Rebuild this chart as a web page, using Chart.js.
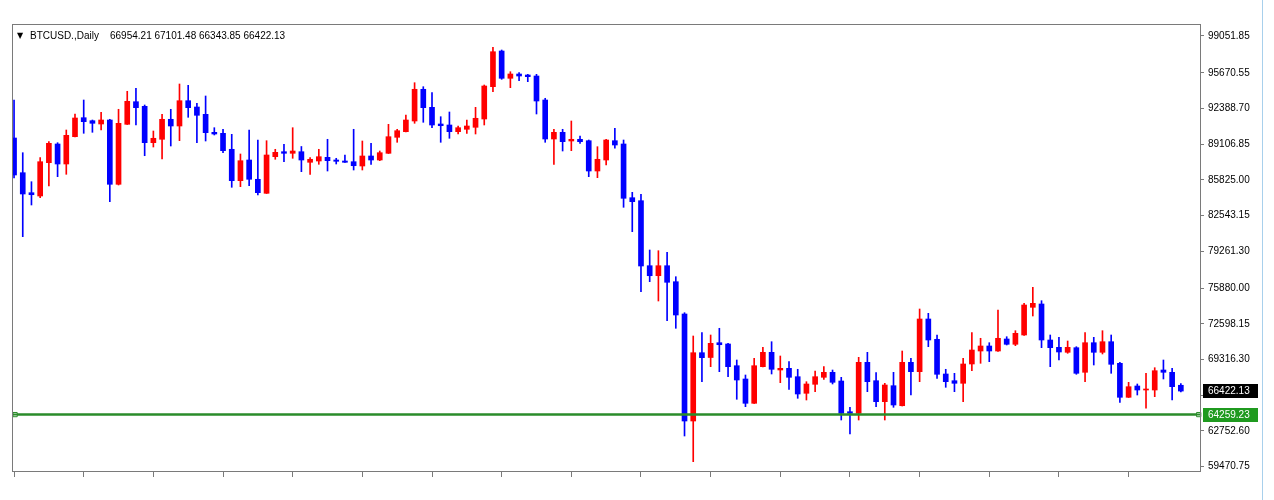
<!DOCTYPE html>
<html><head><meta charset="utf-8">
<script src="https://cdn.jsdelivr.net/npm/chart.js@4.4.1/dist/chart.umd.min.js"></script>
<style>html,body{margin:0;padding:0;background:#fff;overflow:hidden}#wrap{position:relative;width:1274px;height:500px}canvas{display:block}</style>
</head><body><div id="wrap"><canvas id="c" width="1274" height="500"></canvas></div>
<script>
const symbolName = 'BTCUSD.,Daily';
const openP = [89678,86489,84651,84348,87408,89127,87289,89798,91544,91268,
90965,91332,85423,90937,93014,92591,89246,89559,91397,90781,
93106,92527,91856,90202,90110,88640,85754,87656,85883,84596,
87960,88419,88272,88419,87445,87564,87904,87656,87564,87500,
87105,88024,87656,88272,89742,90257,91240,94154,92499,90965,
90873,90257,90478,90661,91424,94393,97673,95165,95560,95468,
95376,93170,89586,90202,89402,89559,89430,86645,87656,89430,
89127,84192,83916,77942,77023,77942,76472,73504,63670,69947,
69506,70866,70747,68752,67530,65297,68661,69984,68357,68513,
67742,66216,67043,67686,68146,67346,64525,64378,69065,67374,
65444,66914,65076,69065,68201,73044,71179,67990,67374,67135,
68909,70103,70563,70103,71206,70719,71574,74119,74423,71114,
70443,69984,70407,68146,70866,69984,70958,68973,65848,66887,
66519,66519,68357,68146,66954.21];
const highP = [93170,88327,85662,87868,89338,89246,90413,91884,93170,91332,
92040,91397,92316,93970,94246,92711,90321,91856,92316,94641,
94521,92867,93538,90625,90478,90018,88208,90413,89494,89430,
88640,89099,90625,88897,87868,88640,89559,87813,88116,90478,
89402,89191,88483,90937,90478,91792,94760,94393,93841,91636,
92068,90781,91332,92499,94549,98013,97765,95771,95679,95532,
95532,93327,90478,90478,91240,89862,89494,88879,89559,90570,
89494,84688,84504,79385,79321,79174,76932,73623,71482,71785,
71574,72190,70811,69276,67898,69432,70443,70958,69644,69120,
68422,67282,68265,68661,68357,67686,64929,69524,69984,68109,
67135,68146,70103,69432,73963,73568,71574,68422,68054,69432,
71785,71271,70866,73871,71418,71969,74487,75957,74726,71574,
71362,71022,70499,71785,71362,71969,71574,69065,67227,67071,
68054,68569,69276,68513,67101.48];
const lowP = [86002,80608,83521,84192,85267,86122,86342,89770,90110,90202,
90413,83824,85359,90919,90873,88051,88851,87748,88943,89430,
91580,89246,89402,89954,88327,85147,85203,85295,84440,84578,
87721,87500,87813,86581,86342,87261,86645,87289,87427,86737,
86737,87261,87592,88254,89283,90229,91029,91121,90625,89283,
89651,90046,90110,90046,90873,93933,95073,94301,94944,94852,
91884,89283,87261,88483,88511,89191,86122,86030,87197,88732,
83309,81067,75553,76472,74698,72888,72190,62292,59930,67282,
68661,68201,67742,65665,64985,65279,68633,67990,67190,66584,
65756,65600,66363,67503,67071,63762,62476,63762,66363,64985,
63762,64929,65049,66060,67282,70499,67594,66767,66363,65444,
68293,68973,69120,70076,70655,70591,71546,73320,70407,68661,
69276,69892,67962,67282,68817,69828,68054,65389,65830,66060,
64838,65904,67530,65600,66343.85];
const closeP = [86278,84532,84467,87500,89191,87289,89926,91516,91176,91029,
91332,85423,91029,93051,92463,89246,89651,91397,90781,93106,
92463,91764,90165,90046,88511,85754,87592,85883,84651,88116,
88364,88272,88483,87656,87721,87960,87592,87537,87445,87132,
88024,87656,88327,89798,90349,91332,94154,92463,90873,90808,
90257,90625,90781,91489,94457,97609,95165,95560,95376,95312,
93078,89586,90202,89338,89559,89338,86645,87721,89494,89035,
84137,83824,77915,77023,77942,76417,73412,63670,69947,69488,
70811,70682,68661,67438,65297,68752,69984,68422,68513,67686,
66152,67071,67742,68146,67227,64378,64378,69065,67282,65444,
66979,65141,69065,68201,73044,71114,67962,67282,67135,68909,
70195,70563,70103,71271,70719,71730,74331,74487,71114,70407,
70012,70443,68054,70866,69984,70958,68881,65848,66823,66519,
66611,68293,68146,66823,66422.13];
const yTickValues = [99051.85,95670.55,92388.70,89106.85,85825.00,82543.15,79261.30,75880.00,72598.15,69316.30,66034.45,62752.60,59470.75];
const lastPrice = 66422.13;
const levelPrice = 64259.23;
const barIndex = openP.map((_, i) => i);

const upColor = '#ff0000', downColor = '#0000ff';
const colorOf = i => closeP[i] >= openP[i] ? upColor : downColor;

const decor = {
  id: 'mt4decor',
  beforeDraw(chart) {
    const ctx = chart.ctx;
    ctx.save(); ctx.fillStyle = '#fff'; ctx.fillRect(0, 0, chart.width, chart.height); ctx.restore();
  },
  afterDraw(chart) {
    const {ctx, scales: {y}} = chart;
    ctx.save();
    ctx.strokeStyle = '#7a7a7a'; ctx.lineWidth = 1;
    ctx.strokeRect(12.5, 24.5, 1188, 447);
    ctx.strokeStyle = '#a8d0ec';
    ctx.beginPath(); ctx.moveTo(1262.5, 0); ctx.lineTo(1262.5, 500); ctx.stroke();
    // title
    ctx.fillStyle = '#000'; ctx.textBaseline = 'middle';
    ctx.font = '8px "DejaVu Sans"';
    ctx.fillText('▼', 17, 36);
    ctx.font = '10px "Liberation Sans"';
    ctx.fillText(symbolName, 30, 36);
    ctx.fillText([openP, highP, lowP, closeP].map(s => s[s.length - 1].toFixed(2)).join(' '), 110, 36);
    // price boxes
    const box = (v, bg) => {
      const py = Math.round(y.getPixelForValue(v));
      ctx.fillStyle = bg; ctx.fillRect(1203, py - 7, 55, 14);
      ctx.fillStyle = '#fff'; ctx.font = '10px "Liberation Sans"'; ctx.textBaseline = 'middle';
      ctx.fillText(v.toFixed(2), 1208, py);
    };
    box(lastPrice, '#000');
    box(levelPrice, '#1f9a1f');
    ctx.restore();
  }
};

new Chart(document.getElementById('c'), {
  type: 'bar',
  data: {
    datasets: [
      {
        label: 'body', order: 0, grouped: false, barThickness: 5, minBarLength: 1,
        data: barIndex.map(i => ({x: i, y: [openP[i], closeP[i]]})),
        backgroundColor: c => colorOf(c.dataIndex), borderWidth: 0
      },
      {
        label: 'wick', order: 1, grouped: false, barThickness: 1,
        data: barIndex.map(i => ({x: i, y: [lowP[i], highP[i]]})),
        backgroundColor: c => colorOf(c.dataIndex), borderWidth: 0
      },
      {
        type: 'line', label: 'level', order: -1, clip: false,
        data: [{x: 0.12, y: levelPrice}, {x: 136.05, y: levelPrice}],
        borderColor: '#2a8c2a', borderWidth: 2, pointStyle: 'rect', pointRadius: 3,
        pointBackgroundColor: '#fff', pointBorderColor: '#2a8c2a', pointBorderWidth: 1
      },
      {
        type: 'line', label: 'levelSpan', order: -2, clip: false,
        data: [{x: -0.12, y: levelPrice}, {x: 136.2, y: levelPrice}],
        borderColor: '#2a8c2a', borderWidth: 2, pointRadius: 0
      }
    ]
  },
  options: {
    responsive: false, animation: false,
    layout: {padding: {left: 13, top: 25, right: 0, bottom: 0}},
    plugins: {legend: {display: false}, tooltip: {enabled: false}},
    scales: {
      x: {
        type: 'linear', min: -0.12, max: 136.2, offset: false,
        grid: {offset: false, drawOnChartArea: false, drawTicks: true, tickLength: 6, color: '#7a7a7a'},
        border: {display: false},
        ticks: {display: false},
        afterBuildTicks: s => { s.ticks = barIndex.filter(i => i % 8 === 0).map(v => ({value: v})); },
        afterFit: s => { s.height = 29; }
      },
      y: {
        type: 'linear', position: 'right', min: 59075.35, max: 100062.75,
        grid: {drawOnChartArea: false, drawTicks: true, tickLength: 4, color: '#7a7a7a'},
        border: {display: false},
        ticks: {padding: 4, color: '#000', font: {family: 'Liberation Sans', size: 10}, autoSkip: false,
                callback: v => Number(v).toFixed(2)},
        afterBuildTicks: s => { s.ticks = yTickValues.map(v => ({value: v})); },
        afterFit: s => { s.width = 74; }
      }
    }
  },
  plugins: [decor]
});
</script></body></html>
